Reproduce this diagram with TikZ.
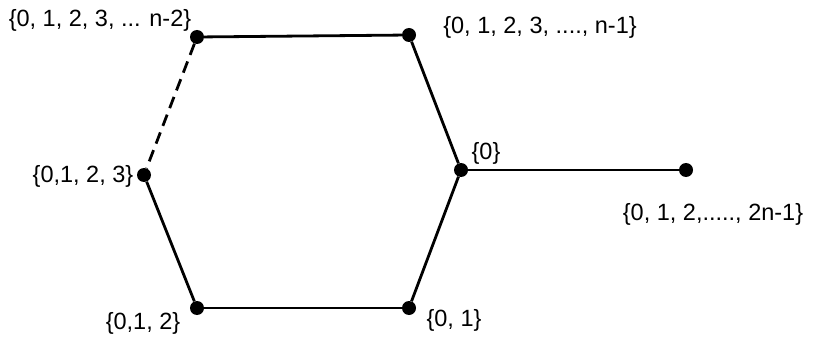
\documentclass[tikz,border=0pt]{standalone}
\usepackage{fontspec}
\setmainfont{Liberation Sans}
\begin{document}
\begin{tikzpicture}[x=1pt,y=-1pt,
  vtx/.style={circle,fill=black,inner sep=0pt,minimum size=14pt},
  lbl/.style={inner sep=0pt,font=\fontsize{23.5}{27}\selectfont},
  edge/.style={line width=2.8pt},
  dashedge/.style={line width=2.8pt,dash pattern=on 12pt off 7pt}]
\useasboundingbox (0,0) rectangle (814,342);
\node[vtx] (a) at (197,37) {};
\node[vtx] (b) at (409,35) {};
\node[vtx] (c) at (461,170) {};
\node[vtx] (d) at (686,170) {};
\node[vtx] (e) at (144,175) {};
\node[vtx] (f) at (197,308) {};
\node[vtx] (g) at (409,308) {};
\draw[edge] (a) -- (b);
\draw[edge] (b) -- (c);
\draw[edge] (c) -- (d);
\draw[edge] (c) -- (g);
\draw[edge] (g) -- (f);
\draw[edge] (f) -- (e);
\draw[dashedge] (a) -- (e);
\node[lbl] (la) at (100,20) {\{0, 1, 2, 3, ... n-2\}};
\node[lbl] (lb) at (540,27) {\{0, 1, 2, 3, ...., n-1\}};
\node[lbl] (lc) at (486,153) {\{0\}};
\node[lbl] (ld) at (713,214) {\{0, 1, 2,....., 2n-1\}};
\node[lbl] (le) at (83,176) {\{0,1, 2, 3\}};
\node[lbl] (lf) at (143,323) {\{0,1, 2\}};
\node[lbl] (lg) at (454,320) {\{0, 1\}};
\end{tikzpicture}
\end{document}
